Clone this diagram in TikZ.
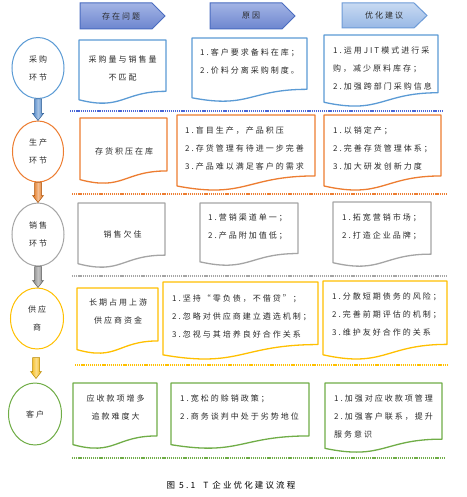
\documentclass[tikz,border=0pt]{standalone}
\usepackage{fontspec}
\newfontfamily\cjk[LetterSpace=25]{Noto Sans CJK SC}
\usetikzlibrary{shapes.geometric,calc}
\definecolor{cblue}{HTML}{5B9BD5}
\definecolor{corange}{HTML}{ED7D31}
\definecolor{cgray}{HTML}{A5A5A5}
\definecolor{cyellow}{HTML}{FFC000}
\definecolor{cgreen}{HTML}{70AD47}
\definecolor{sepblue}{HTML}{4A66D6}
\definecolor{txtgray}{HTML}{2A2A2A}
\definecolor{hdrline}{HTML}{4A6CC0}
\definecolor{hdrtop}{HTML}{A3B4E5}
\definecolor{hdrbot}{HTML}{6D86CF}
\definecolor{hdrlineb}{HTML}{6D9BD7}
\definecolor{hdrtopb}{HTML}{C8DAF2}
\definecolor{hdrbotb}{HTML}{98B8E5}
\definecolor{arrblue}{HTML}{3F7CC4}
\definecolor{arrorange}{HTML}{E46C0A}
\definecolor{arrgray}{HTML}{7F7F7F}
\definecolor{arryellow}{HTML}{F5B400}
\tikzset{
  txt/.style={font=\cjk\fontsize{8}{18}\selectfont, text=txtgray, inner sep=0pt},
  ltxt/.style={txt, align=left, anchor=west},
  ctxt/.style={txt, align=center},
  stage/.style={ellipse, draw, line width=1pt, inner sep=0pt, txt, align=center},
  docline/.style={line width=1.3pt, fill=white, line join=round},
  sepline/.style={line width=1.2pt, dash pattern=on 1.2pt off 0.9pt},
  hdr/.style={line width=1pt},
}
\newcommand\docpath[5]{%
  \draw[docline, draw=#5] (#1,{#2+0.934*#4}) -- (#1,#2) -- (#3,#2) -- (#3,{#2+0.802*#4})
    .. controls ({(#1+#3)/2},{#2+0.802*#4}) and ({(#1+#3)/2},{#2+1.107*#4}) .. (#1,{#2+0.934*#4}) -- cycle;}
\newcommand\blockarrow[3]{%
  \path let \p1=(#1), \p2=(#2) in
    [draw=#3!75!black, line width=0.5pt, left color=#3, right color=#3, middle color=#3!45!white]
    (\x1-3.5pt,\y1) -- (\x1+3.5pt,\y1) -- (\x1+3.5pt,\y2+7pt) -- (\x1+5.5pt,\y2+7pt)
    -- (\x1,\y2) -- (\x1-5.5pt,\y2+7pt) -- (\x1-3.5pt,\y2+7pt) -- cycle;}
\begin{document}
\begin{tikzpicture}[x=1pt,y=-1pt]
\useasboundingbox (0,0) rectangle (466,497);
\fill[white] (0,0) rectangle (466,497);

% headers
\path[hdr, draw=hdrline, top color=hdrtop, bottom color=hdrbot] (80,3) -- (152,3) -- (165,16) -- (152,29) -- (80,29) -- cycle;
\path[hdr, draw=hdrline, top color=hdrtop, bottom color=hdrbot] (210,3) -- (282,3) -- (295,16) -- (282,29) -- (210,29) -- cycle;
\path[hdr, draw=hdrlineb, top color=hdrtopb, bottom color=hdrbotb] (342,3) -- (414,3) -- (427,15.5) -- (414,28) -- (342,28) -- cycle;
\node[ctxt] (h1) at (121,16) {存在问题};
\node[ctxt] (h2) at (251,16) {原因};
\node[ctxt] (h3) at (384,15.5) {优化建议};

% stage ellipses
\node[stage, draw=cblue, minimum width=52pt, minimum height=61pt] (c1) at (38,68) {采购\\环节};
\node[stage, draw=corange, minimum width=51pt, minimum height=61pt] (c2) at (38,151.5) {生产\\环节};
\node[stage, draw=cgray, minimum width=52pt, minimum height=63pt] (c3) at (38,234.5) {销售\\环节};
\node[stage, draw=cyellow, minimum width=53pt, minimum height=61pt] (c4) at (37,318.5) {供应\\商};
\node[stage, draw=cgreen, minimum width=53pt, minimum height=62pt] (c5) at (35,414) {客户};

% arrows between stages
\coordinate (a4s) at ($(c4.south)+(-1,8)$);
\coordinate (a4e) at ($(c5.north)+(0,-4)$);
\blockarrow{c1.south}{c2.north}{arrblue}
\blockarrow{c2.south}{c3.north}{arrorange}
\blockarrow{c3.south}{c4.north}{arrgray}
\blockarrow{a4s}{a4e}{arryellow}

% row 1
\docpath{79}{40}{166}{64}{cblue}
\docpath{192}{38}{307}{64}{cblue}
\docpath{324}{35}{438}{72}{cblue}
\node[ctxt] (r1a) at (122.5,68) {采购量与销售量\\不匹配};
\node[ltxt] (r1b) at (200,61) {1.客户要求备料在库；\\2.价料分离采购制度。};
\node[ltxt] (r1c) at (333,68.5) {1.运用JIT模式进行采\\购，减少原料库存；\\2.加强跨部门采购信息};
\draw[sepline, draw=sepblue] (70,111) -- (443,111);

% row 2
\docpath{80}{118}{167}{66}{corange}
\docpath{177}{115}{315}{76}{corange}
\docpath{324}{115}{441}{76}{corange}
\node[ctxt] (r2a) at (124,151) {存货积压在库};
\node[ltxt] (r2b) at (185,148.5) {1.盲目生产，产品积压\\2.存货管理有待进一步完善\\3.产品难以满足客户的需求};
\node[ltxt] (r2c) at (333,148.5) {1.以销定产；\\2.完善存货管理体系；\\3.加大研发创新力度};
\draw[sepline, draw=corange] (72,194) -- (447,194);

% row 3
\docpath{78}{203}{165}{65}{cgray}
\docpath{200}{203}{298}{63}{cgray}
\docpath{333}{202}{431}{65}{cgray}
\node[ctxt] (r3a) at (122.5,234) {销售欠佳};
\node[ltxt] (r3b) at (208,226.5) {1.营销渠道单一；\\2.产品附加值低；};
\node[ltxt] (r3c) at (342,227) {1.拓宽营销市场；\\2.打造企业品牌；};
\draw[sepline, draw=cgray] (72,276) -- (447,276);

% row 4
\docpath{77}{288}{158}{66}{cyellow}
\docpath{163}{282}{318}{78}{cyellow}
\docpath{323}{281}{447}{79}{cyellow}
\node[ctxt] (r4a) at (118,311.5) {长期占用上游\\供应商资金};
\node[ltxt] (r4b) at (172,316) {1.坚持“零负债，不借贷”；\\2.忽略对供应商建立遴选机制；\\3.忽视与其培养良好合作关系};
\node[ltxt] (r4c) at (332,314.5) {1.分散短期债务的风险；\\2.完善前期评估的机制；\\3.维护友好合作的关系};
\draw[sepline, draw=cyellow] (75,365) -- (448,365);

% row 5
\docpath{73}{383}{157}{66}{cgreen}
\docpath{171}{383}{309}{66}{cgreen}
\docpath{325}{383}{442}{70}{cgreen}
\node[ctxt] (r5a) at (115.5,407) {应收款项增多\\追款难度大};
\node[ltxt] (r5b) at (180,407.5) {1.宽松的赊销政策；\\2.商务谈判中处于劣势地位};
\node[ltxt] (r5c) at (334,416.5) {1.加强对应收款项管理\\2.加强客户联系，提升\\服务意识};
\draw[sepline, draw=cgreen] (72,458) -- (445,458);

% caption
\node[txt, text=black, font=\cjk\fontsize{8.5}{10}\selectfont] (cap) at (231,485) {图 5.1\ \ T 企业优化建议流程};
\end{tikzpicture}
\end{document}
